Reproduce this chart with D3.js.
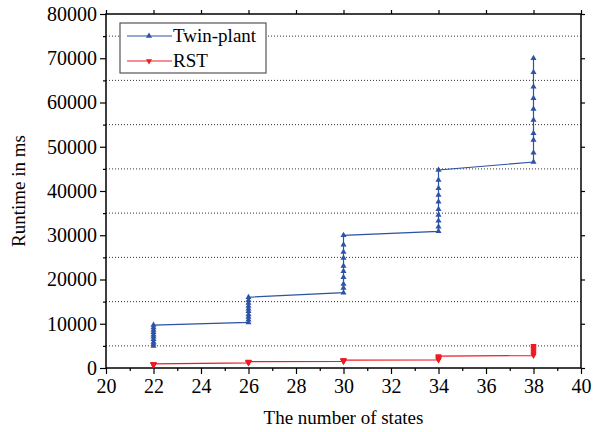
<!DOCTYPE html>
<html>
<head>
<meta charset="utf-8">
<script src="https://cdn.jsdelivr.net/npm/d3@7"></script>
<style>
  body { margin: 0; background: #fff; }
  text { font-family: "Liberation Serif", "Times New Roman", serif; fill: #000; }
</style>
</head>
<body>
<svg id="chart" width="602" height="432"></svg>
<script>
// x positions (number of states)
var states = [22, 26, 30, 34, 38];

// runtime readings per state, in ms
var twinPlant = [
  [4950, 5450, 5900, 6500, 7050, 7500, 8100, 8600, 9150, 9700],
  [10300, 10900, 11500, 12100, 12800, 13400, 14000, 14700, 15300, 16000],
  [17020, 18080, 18980, 20500, 21850, 23050, 24860, 26210, 27870, 29990],
  [30890, 31930, 33290, 34580, 35860, 37580, 39100, 40600, 42490, 44750],
  [46550, 48660, 51530, 53040, 56050, 58530, 60950, 63570, 66820, 69990]
];
var rst = [
  [620, 680, 720, 760, 800, 830, 860, 890, 920, 950],
  [1150, 1190, 1230, 1260, 1290, 1320, 1350, 1380, 1410, 1440],
  [1480, 1520, 1560, 1600, 1630, 1660, 1700, 1730, 1760, 1800],
  [1820, 1900, 1980, 2060, 2150, 2250, 2350, 2450, 2550, 2700],
  [2800, 3050, 3300, 3550, 3800, 4050, 4300, 4550, 4750, 5000]
];

var xTicks = [20, 22, 24, 26, 28, 30, 32, 34, 36, 38, 40];
var yTicks = [0, 10000, 20000, 30000, 40000, 50000, 60000, 70000, 80000];
var gridLines = [5000, 15000, 25000, 35000, 45000, 55000, 65000, 75000];

var serif = "'Liberation Serif', 'Times New Roman', serif";

function flatten(series) {
  var out = [];
  series.forEach(function (vals, i) {
    vals.forEach(function (v) { out.push({ x: states[i], y: v }); });
  });
  return out;
}

var svg = d3.select("#chart"),
  margin = { top: 14, right: 21, bottom: 64, left: 106 },
  width = +svg.attr("width") - margin.left - margin.right,
  height = +svg.attr("height") - margin.top - margin.bottom,
  g = svg.append("g").attr("transform", "translate(" + margin.left + "," + margin.top + ")");

var x = d3.scaleLinear().domain([20, 40]).range([0, width]);
var y = d3.scaleLinear().domain([0, 80000]).range([height, 0]);

// dotted grid at the half steps
g.append("g")
  .selectAll("line")
  .data(gridLines)
  .enter().append("line")
  .attr("x1", 0)
  .attr("x2", width)
  .attr("y1", function (d) { return y(d); })
  .attr("y2", function (d) { return y(d); })
  .attr("stroke", "#333")
  .attr("stroke-width", 1)
  .attr("stroke-dasharray", "1,2");

// frame
g.append("rect")
  .attr("width", width)
  .attr("height", height)
  .attr("fill", "none")
  .attr("stroke", "#000")
  .attr("stroke-width", 1.5);

function styleAxis(sel) {
  sel.attr("font-family", serif).attr("font-size", 20);
  sel.select(".domain").remove();
  sel.selectAll(".tick line").attr("stroke", "#000").attr("stroke-width", 1.2);
  sel.selectAll(".tick text").attr("fill", "#000");
}

var xAxis = g.append("g")
  .attr("transform", "translate(0," + height + ")")
  .call(d3.axisBottom(x).tickValues(xTicks).tickSize(6).tickPadding(5).tickFormat(d3.format("d")));
styleAxis(xAxis);

var yAxis = g.append("g")
  .call(d3.axisLeft(y).tickValues(yTicks).tickSize(6).tickPadding(3).tickFormat(d3.format("d")));
styleAxis(yAxis);

// minor ticks
g.append("g")
  .attr("transform", "translate(0," + height + ")")
  .call(d3.axisBottom(x).tickValues(d3.range(21, 40, 2)).tickSize(3).tickFormat(""))
  .call(styleAxis);
g.append("g")
  .call(d3.axisLeft(y).tickValues(gridLines).tickSize(3).tickFormat(""))
  .call(styleAxis);

// mirror ticks on top and right
g.append("g")
  .call(d3.axisTop(x).tickValues(xTicks).tickSize(4).tickFormat(""))
  .call(styleAxis);
g.append("g")
  .attr("transform", "translate(" + width + ",0)")
  .call(d3.axisRight(y).tickValues(yTicks).tickSize(4).tickFormat(""))
  .call(styleAxis);

var line = d3.line()
  .x(function (d) { return x(d.x); })
  .y(function (d) { return y(d.y); });

var seriesList = [
  { name: "Twin-plant", data: flatten(twinPlant), color: "#2d52a6", flip: false },
  { name: "RST", data: flatten(rst), color: "#ec1c24", flip: true }
];

seriesList.forEach(function (s) {
  g.append("path")
    .datum(s.data)
    .attr("fill", "none")
    .attr("stroke", s.color)
    .attr("stroke-width", 1.2)
    .attr("d", line);

  g.append("g")
    .selectAll("path")
    .data(s.data)
    .enter().append("path")
    .attr("d", d3.symbol().type(d3.symbolTriangle).size(16))
    .attr("transform", function (d) {
      return "translate(" + x(d.x) + "," + y(d.y) + ")" + (s.flip ? " rotate(180)" : "");
    })
    .attr("fill", s.color);
});

// axis titles
svg.append("text")
  .attr("x", margin.left + width / 2)
  .attr("y", 424)
  .attr("text-anchor", "middle")
  .style("font-size", "19px")
  .text("The number of states");

svg.append("text")
  .attr("transform", "translate(25," + (margin.top + height / 2) + ") rotate(-90)")
  .attr("text-anchor", "middle")
  .style("font-size", "19px")
  .text("Runtime in ms");

// legend
var legend = svg.append("g").attr("transform", "translate(120,23)");
legend.append("rect")
  .attr("width", 146)
  .attr("height", 50)
  .attr("fill", "#fff")
  .attr("stroke", "#555")
  .attr("stroke-width", 1.2);

seriesList.forEach(function (s, i) {
  var row = legend.append("g").attr("transform", "translate(0," + (13 + i * 25) + ")");
  row.append("line")
    .attr("x1", 7).attr("x2", 52)
    .attr("stroke", s.color)
    .attr("stroke-width", 1.2);
  row.append("path")
    .attr("d", d3.symbol().type(d3.symbolTriangle).size(16))
    .attr("transform", "translate(29,0)" + (s.flip ? " rotate(180)" : ""))
    .attr("fill", s.color);
  row.append("text")
    .attr("x", 53)
    .attr("y", 6)
    .style("font-size", "19px")
    .text(s.name);
});
</script>
</body>
</html>
